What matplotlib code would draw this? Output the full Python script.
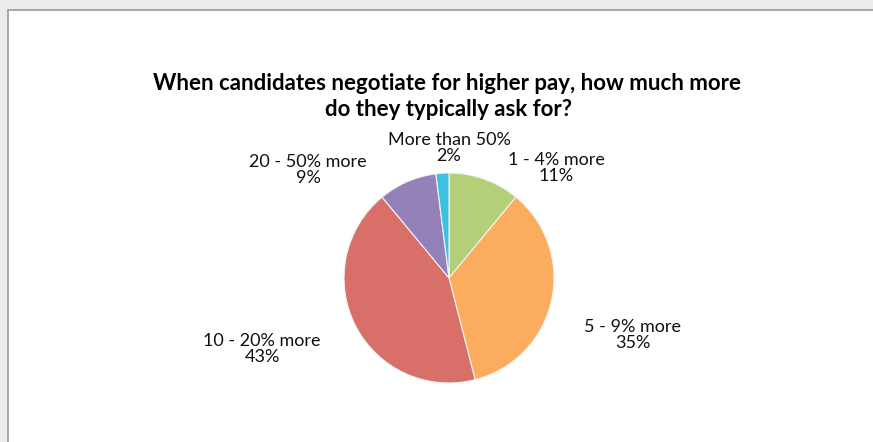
import matplotlib
matplotlib.use("Agg")
import matplotlib.pyplot as plt
from matplotlib.patches import Rectangle

plt.rcParams["font.family"] = ["Lato", "DejaVu Sans"]

categories = ["1 - 4% more", "5 - 9% more", "10 - 20% more", "20 - 50% more", "More than 50%"]
shares = [11, 35, 43, 9, 2]
colors = ["#b3cf78", "#fbac5f", "#d86f69", "#9581b9", "#3ec0e0"]

# label centres in axis units (pie radius = 1)
label_pos = [(1.02, 1.05), (1.75, -0.54), (-1.78, -0.68), (-1.34, 1.03), (0.0, 1.24)]

W, H = 873, 442
fig = plt.figure(figsize=(W / 100, H / 100), dpi=100)
fig.patch.set_facecolor("#ececec")

# white chart area with a grey border
fig.patches.append(Rectangle((9 / W, -0.1), 1.2, (H - 10) / H + 0.1, transform=fig.transFigure,
                             facecolor="#d4d4d4", edgecolor="none", zorder=0))
fig.patches.append(Rectangle((7.5 / W, -0.1), 1.2, (H - 9.5) / H + 0.1, transform=fig.transFigure,
                             facecolor="white", edgecolor="#9a9a9a", linewidth=1.2, zorder=1))

fig.text(447 / W, 1 - 84 / H, "When candidates negotiate for higher pay, how much more",
         ha="center", va="center", fontsize=16, fontweight="bold", zorder=3)
fig.text(449 / W, 1 - 109 / H, "do they typically ask for?",
         ha="center", va="center", fontsize=16, fontweight="bold", zorder=3)

cx, cy, r = 449, 278, 105
span = 2.2
ax = fig.add_axes([(cx - r * span) / W, 1 - (cy + r * span) / H, 2 * r * span / W, 2 * r * span / H])
ax.set_zorder(2)
ax.pie(shares, colors=colors, startangle=90, counterclock=False, radius=1,
       wedgeprops=dict(edgecolor="#f4f4f4", linewidth=0.8))
for name, v, (x, y) in zip(categories, shares, label_pos):
    ax.text(x, y, f"{name}\n{v}%", ha="center", va="center", fontsize=13,
            linespacing=1.0, color="#111111")
ax.set_xlim(-span, span)
ax.set_ylim(-span, span)
ax.set_aspect("equal")
ax.axis("off")

fig.savefig("out.png", dpi=100, facecolor=fig.get_facecolor())
